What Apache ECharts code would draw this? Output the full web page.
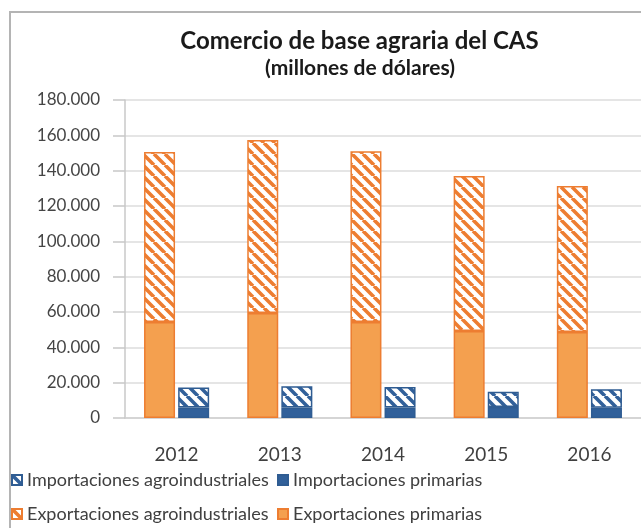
<!DOCTYPE html>
<html>
<head>
<meta charset="utf-8">
<script src="https://cdn.jsdelivr.net/npm/echarts@6/dist/echarts.min.js"></script>
<style>
  html, body { margin: 0; padding: 0; background: #fff; }
  #chart { width: 641px; height: 528px; }
</style>
</head>
<body>
<div id="chart"></div>
<script>
// Comercio de base agraria del CAS — stacked bars, exports vs imports per year

const years = ['2012', '2013', '2014', '2015', '2016']
const exportPrimary = [54300, 59400, 54300, 49200, 48700]
const exportAgro = [96300, 98000, 96700, 87800, 82600]
const importPrimary = [6000, 6000, 6000, 6200, 5800]
const importAgro = [11300, 12000, 11500, 8700, 10500]
const yTicks = [0, 20000, 40000, 60000, 80000, 100000, 120000, 140000, 160000, 180000]

const FONT = 'Lato, "Noto Sans", sans-serif'
const ORANGE = '#ED7D31'
const ORANGE_FILL = '#F4A04F'
const BLUE = '#2F5C92'
const BLUE_FILL = '#31609A'

// diagonal "\" stripes on white, used as a repeat pattern
function hatch(color) {
  const s = 11
  const c = document.createElement('canvas')
  c.width = s
  c.height = s
  const ctx = c.getContext('2d')
  ctx.fillStyle = '#fff'
  ctx.fillRect(0, 0, s, s)
  ctx.strokeStyle = color
  ctx.lineWidth = 3.6
  ctx.beginPath()
  for (const k of [-1, 0, 1]) {
    ctx.moveTo(k * s, 0)
    ctx.lineTo(k * s + s, s)
  }
  ctx.stroke()
  return c
}

function fmt(v) {
  return String(v).replace(/\B(?=(\d{3})+(?!\d))/g, '.')
}

const legendBase = {
  orient: 'vertical',
  top: 471, padding: 0,
  icon: 'rect',
  itemWidth: 10, itemHeight: 10, itemGap: 16,
  textStyle: { fontFamily: FONT, fontSize: 18, color: '#404040' },
}

const chart = echarts.init(document.getElementById('chart'))
chart.setOption({
  animation: false,
  textStyle: { fontFamily: FONT },
  title: [{
    text: 'Comercio de base agraria del CAS',
    left: 359.5, top: 29, textAlign: 'center', padding: 0,
    textStyle: { fontFamily: FONT, fontSize: 24, fontWeight: 'bold', color: '#1a1a1a' },
  }, {
    text: '(millones de dólares)',
    left: 360, top: 58, textAlign: 'center', padding: 0,
    textStyle: { fontFamily: FONT, fontSize: 21, fontWeight: 'bold', color: '#1a1a1a' },
  }],
  graphic: [{
    type: 'rect',
    shape: { x: 10, y: 12, width: 700, height: 600 },
    style: { fill: 'none', stroke: '#b4b4b4', lineWidth: 2 },
    silent: true,
  }],
  legend: [
    Object.assign({}, legendBase, { left: 11, data: ['Importaciones agroindustriales', 'Exportaciones agroindustriales'] }),
    Object.assign({}, legendBase, { left: 277, data: ['Importaciones primarias', 'Exportaciones primarias'] }),
  ],
  grid: { left: 125, top: 100, width: 519, height: 318 },
  xAxis: {
    type: 'category',
    data: years,
    axisLine: { show: true, lineStyle: { color: '#d0d0d0', width: 1.5 } },
    axisTick: { show: false },
    axisLabel: { margin: 27, fontSize: 19, color: '#404040', fontFamily: FONT },
  },
  yAxis: {
    type: 'value',
    min: 0, max: yTicks[yTicks.length - 1], interval: yTicks[1] - yTicks[0],
    axisLine: { show: true, lineStyle: { color: '#c8c8c8', width: 1.5 } },
    axisTick: { show: true, length: 12, lineStyle: { color: '#c8c8c8', width: 1.5 } },
    axisLabel: { margin: 25, fontSize: 17, color: '#454545', fontFamily: FONT, formatter: fmt },
    splitLine: { lineStyle: { color: '#dcdcdc', width: 1.5 } },
  },
  series: [{
    name: 'Exportaciones primarias',
    type: 'bar', stack: 'exp', barWidth: 31, barGap: '10%',
    data: exportPrimary,
    itemStyle: { color: ORANGE_FILL, borderColor: ORANGE, borderWidth: 1.5 },
  }, {
    name: 'Exportaciones agroindustriales',
    type: 'bar', stack: 'exp', barWidth: 31, barGap: '10%',
    data: exportAgro,
    itemStyle: { color: { image: hatch(ORANGE), repeat: 'repeat' }, borderColor: ORANGE, borderWidth: 1.5 },
  }, {
    name: 'Importaciones primarias',
    type: 'bar', stack: 'imp', barWidth: 31, barGap: '10%',
    data: importPrimary,
    itemStyle: { color: BLUE_FILL, borderColor: BLUE, borderWidth: 1.5 },
  }, {
    name: 'Importaciones agroindustriales',
    type: 'bar', stack: 'imp', barWidth: 31, barGap: '10%',
    data: importAgro,
    itemStyle: { color: { image: hatch(BLUE_FILL), repeat: 'repeat' }, borderColor: BLUE, borderWidth: 1.5 },
  }],
})
</script>
</body>
</html>
